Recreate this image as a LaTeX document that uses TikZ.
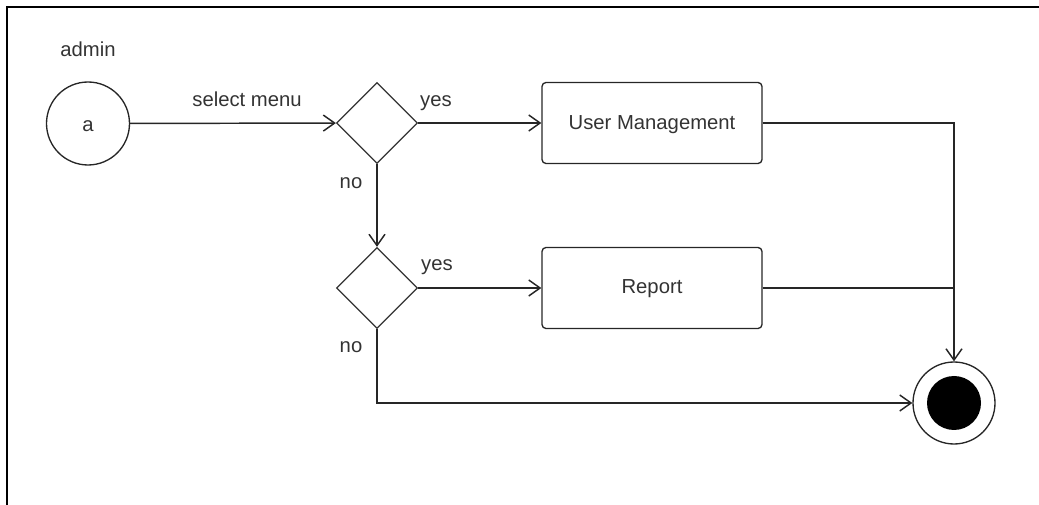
\documentclass[tikz,border=0pt]{standalone}
\usepackage{fontspec}
\setmainfont{Liberation Sans}
\usetikzlibrary{shapes.geometric,arrows.meta}

\tikzset{
  flow/.style={draw=black!85, line width=1.1pt},
  arr/.style={flow, -{Straight Barb[length=8.5pt,width=12pt,line width=1.1pt]}},
  lbl/.style={text=black!80, font=\fontsize{15.2}{18}\selectfont, inner sep=0pt, anchor=base},
  startnode/.style={circle, draw=black!85, line width=1pt, minimum size=62.25pt, inner sep=0pt},
  decision/.style={diamond, draw=black!80, line width=1pt, minimum width=60.75pt, minimum height=60.75pt, inner sep=0pt},
  actbox/.style={rectangle, rounded corners=3pt, draw=black!85, line width=1pt, minimum width=165pt, minimum height=60.75pt, inner sep=0pt},
  endring/.style={circle, draw=black!85, line width=1pt, minimum size=61.5pt, inner sep=0pt},
  enddot/.style={circle, fill=black, minimum size=40.5pt, inner sep=0pt}
}

\begin{document}
\begin{tikzpicture}[x=0.75pt, y=-0.75pt]
\useasboundingbox (0,0) rectangle (1039,505);

% frame edges
\coordinate (fr1) at (1039,7.5);
\coordinate (fr2) at (7,7.5);
\coordinate (fr3) at (7,505);
\draw[line width=1.5pt, black] (fr1) -- (fr2) -- (fr3);

% shapes
\node[startnode] (start) at (88,123.5) {};
\node[decision] (d1) at (377,123) {};
\node[decision] (d2) at (377,288) {};
\node[actbox] (um) at (652,123) {};
\node[actbox] (rep) at (652,288) {};
\node[endring] (fin) at (954,403) {};
\node[enddot] (findot) at (954,403) {};

% texts set on their baselines
\node[lbl] (atext) at (88,132) {a};
\node[lbl] (actor) at (88,57) {admin};
\node[lbl] (umtext) at (652,130) {User Management};
\node[lbl] (reptext) at (652,294) {Report};

% bend points
\coordinate (umcorner) at (954,123);
\coordinate (repjoin) at (954,288);
\coordinate (nocorner) at (377,403);

% connectors
\draw[arr] (start) -- (d1);
\draw[arr] (d1) -- (um);
\draw[arr] (d1) -- (d2);
\draw[arr] (d2) -- (rep);
\draw[arr] (um.east) -- (umcorner) -- (fin);
\draw[flow] (rep.east) -- (repjoin);
\draw[arr] (d2.south) -- (nocorner) -- (fin);

% connector labels
\node[lbl] (lsel) at (247,107) {select menu};
\node[lbl] (lyes1) at (436,107) {yes};
\node[lbl] (lno1) at (351,189) {no};
\node[lbl] (lyes2) at (437,271) {yes};
\node[lbl] (lno2) at (351,353) {no};
\end{tikzpicture}
\end{document}
